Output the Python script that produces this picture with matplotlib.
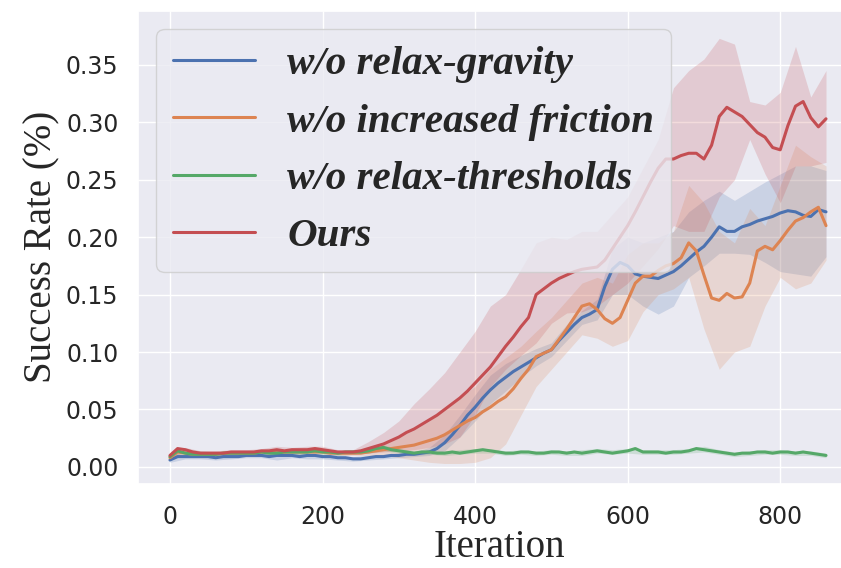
import numpy as np
import matplotlib
matplotlib.use('Agg')
import matplotlib.pyplot as plt
import seaborn as sns

# iterations for the mean curves (every 10) and for the bands (every 20)
iters = np.arange(0, 861, 10)
band_iters = np.arange(0, 861, 20)

gravity = [0.006, 0.009, 0.009, 0.009, 0.009, 0.009, 0.008, 0.009, 0.009, 0.009,
           0.010, 0.010, 0.010, 0.009, 0.010, 0.010, 0.010, 0.009, 0.010, 0.010,
           0.009, 0.009, 0.008, 0.008, 0.007, 0.007, 0.008, 0.009, 0.009, 0.010,
           0.010, 0.011, 0.011, 0.012, 0.013, 0.016, 0.021, 0.028, 0.036, 0.045,
           0.052, 0.060, 0.067, 0.073, 0.078, 0.083, 0.087, 0.091, 0.095, 0.099,
           0.102, 0.110, 0.117, 0.124, 0.130, 0.133, 0.137, 0.157, 0.172, 0.178,
           0.175, 0.168, 0.166, 0.165, 0.164, 0.167, 0.170, 0.175, 0.181, 0.187,
           0.192, 0.200, 0.209, 0.205, 0.205, 0.209, 0.211, 0.214, 0.216, 0.218,
           0.221, 0.223, 0.222, 0.219, 0.218, 0.224, 0.222]
friction = [0.008, 0.013, 0.012, 0.011, 0.011, 0.011, 0.011, 0.012, 0.012, 0.012,
            0.012, 0.012, 0.013, 0.013, 0.013, 0.013, 0.013, 0.013, 0.013, 0.013,
            0.013, 0.012, 0.012, 0.012, 0.012, 0.012, 0.013, 0.014, 0.015, 0.016,
            0.017, 0.018, 0.019, 0.021, 0.023, 0.025, 0.028, 0.032, 0.036, 0.040,
            0.043, 0.048, 0.052, 0.057, 0.061, 0.068, 0.077, 0.085, 0.096, 0.099,
            0.102, 0.111, 0.120, 0.130, 0.140, 0.142, 0.137, 0.129, 0.125, 0.130,
            0.145, 0.160, 0.166, 0.166, 0.171, 0.175, 0.177, 0.182, 0.195, 0.188,
            0.167, 0.147, 0.145, 0.151, 0.147, 0.148, 0.160, 0.188, 0.192, 0.189,
            0.197, 0.206, 0.214, 0.217, 0.222, 0.226, 0.210]
thresholds = [0.009, 0.014, 0.012, 0.011, 0.011, 0.011, 0.011, 0.012, 0.012, 0.012,
              0.012, 0.012, 0.013, 0.012, 0.012, 0.013, 0.013, 0.013, 0.013, 0.014,
              0.013, 0.013, 0.012, 0.013, 0.013, 0.013, 0.014, 0.016, 0.017, 0.015,
              0.014, 0.013, 0.012, 0.013, 0.013, 0.012, 0.012, 0.013, 0.012, 0.013,
              0.014, 0.015, 0.014, 0.013, 0.012, 0.012, 0.013, 0.013, 0.012, 0.012,
              0.013, 0.013, 0.012, 0.013, 0.012, 0.013, 0.014, 0.013, 0.012, 0.013,
              0.014, 0.016, 0.013, 0.013, 0.013, 0.012, 0.013, 0.013, 0.014, 0.016,
              0.015, 0.014, 0.013, 0.012, 0.011, 0.012, 0.012, 0.013, 0.013, 0.012,
              0.013, 0.013, 0.012, 0.013, 0.012, 0.011, 0.010]
ours = [0.010, 0.016, 0.015, 0.013, 0.012, 0.012, 0.012, 0.012, 0.013, 0.013,
        0.013, 0.013, 0.014, 0.014, 0.015, 0.014, 0.015, 0.015, 0.015, 0.016,
        0.015, 0.014, 0.013, 0.013, 0.013, 0.014, 0.016, 0.018, 0.020, 0.023,
        0.026, 0.030, 0.033, 0.037, 0.041, 0.045, 0.050, 0.055, 0.060, 0.066,
        0.073, 0.080, 0.087, 0.096, 0.105, 0.113, 0.122, 0.130, 0.150, 0.155,
        0.160, 0.164, 0.167, 0.170, 0.172, 0.173, 0.174, 0.180, 0.190, 0.200,
        0.210, 0.222, 0.235, 0.248, 0.260, 0.268, 0.268, 0.271, 0.273, 0.273,
        0.268, 0.280, 0.305, 0.313, 0.309, 0.305, 0.298, 0.291, 0.287, 0.278,
        0.276, 0.297, 0.314, 0.318, 0.304, 0.296, 0.303]

# confidence bands (lower, upper) every 20 iterations
gravity_lo = [0.004, 0.007, 0.007, 0.006, 0.007, 0.008, 0.008, 0.006, 0.008, 0.007,
              0.007, 0.006, 0.005, 0.006, 0.007, 0.008, 0.009, 0.010, 0.014, 0.026,
              0.040, 0.055, 0.066, 0.078, 0.088, 0.096, 0.110, 0.124, 0.128, 0.150,
              0.150, 0.140, 0.133, 0.140, 0.165, 0.175, 0.186, 0.186, 0.185, 0.178,
              0.170, 0.168, 0.166, 0.183]
gravity_hi = [0.008, 0.011, 0.011, 0.010, 0.011, 0.012, 0.012, 0.013, 0.012, 0.012,
              0.011, 0.010, 0.009, 0.010, 0.011, 0.012, 0.013, 0.017, 0.028, 0.045,
              0.063, 0.080, 0.090, 0.097, 0.103, 0.108, 0.124, 0.136, 0.146, 0.190,
              0.200, 0.195, 0.200, 0.205, 0.222, 0.232, 0.240, 0.232, 0.240, 0.248,
              0.255, 0.262, 0.262, 0.258]
friction_lo = [0.006, 0.010, 0.009, 0.009, 0.010, 0.010, 0.011, 0.010, 0.011, 0.011,
               0.011, 0.010, 0.010, 0.010, 0.010, 0.008, 0.006, 0.004, 0.003, 0.003,
               0.004, 0.008, 0.020, 0.045, 0.070, 0.085, 0.100, 0.115, 0.112, 0.105,
               0.110, 0.135, 0.150, 0.155, 0.165, 0.120, 0.085, 0.100, 0.105, 0.140,
               0.165, 0.155, 0.160, 0.180]
friction_hi = [0.010, 0.014, 0.013, 0.013, 0.014, 0.014, 0.015, 0.016, 0.015, 0.015,
               0.016, 0.014, 0.014, 0.016, 0.020, 0.026, 0.032, 0.040, 0.050, 0.060,
               0.070, 0.085, 0.095, 0.105, 0.118, 0.130, 0.145, 0.160, 0.165, 0.160,
               0.185, 0.195, 0.195, 0.205, 0.245, 0.230, 0.205, 0.195, 0.225, 0.210,
               0.245, 0.280, 0.270, 0.262]
thresholds_lo = [0.007, 0.012, 0.010, 0.010, 0.010, 0.010, 0.011, 0.010, 0.011, 0.011,
                 0.011, 0.010, 0.011, 0.012, 0.014, 0.012, 0.010, 0.011, 0.010, 0.011,
                 0.012, 0.012, 0.010, 0.011, 0.010, 0.011, 0.010, 0.010, 0.012, 0.011,
                 0.012, 0.011, 0.011, 0.011, 0.012, 0.013, 0.011, 0.009, 0.010, 0.011,
                 0.011, 0.010, 0.010, 0.008]
thresholds_hi = [0.011, 0.016, 0.014, 0.013, 0.014, 0.014, 0.015, 0.015, 0.015, 0.016,
                 0.015, 0.014, 0.015, 0.016, 0.019, 0.016, 0.014, 0.015, 0.014, 0.015,
                 0.016, 0.016, 0.014, 0.015, 0.014, 0.015, 0.014, 0.015, 0.016, 0.015,
                 0.016, 0.015, 0.015, 0.015, 0.016, 0.018, 0.015, 0.013, 0.014, 0.015,
                 0.015, 0.014, 0.014, 0.012]
ours_lo = [0.008, 0.013, 0.010, 0.010, 0.011, 0.011, 0.012, 0.012, 0.013, 0.013,
           0.013, 0.011, 0.011, 0.012, 0.013, 0.014, 0.015, 0.017, 0.020, 0.026,
           0.045, 0.070, 0.085, 0.097, 0.108, 0.125, 0.134, 0.135, 0.140, 0.150,
           0.160, 0.175, 0.190, 0.210, 0.205, 0.205, 0.235, 0.250, 0.285, 0.255,
           0.230, 0.262, 0.262, 0.265]
ours_hi = [0.012, 0.017, 0.014, 0.014, 0.015, 0.015, 0.016, 0.018, 0.017, 0.018,
           0.018, 0.015, 0.015, 0.022, 0.030, 0.040, 0.055, 0.068, 0.082, 0.100,
           0.118, 0.140, 0.150, 0.172, 0.195, 0.200, 0.198, 0.205, 0.205, 0.220,
           0.235, 0.260, 0.285, 0.330, 0.345, 0.355, 0.373, 0.368, 0.318, 0.315,
           0.326, 0.366, 0.322, 0.345]

labels = ['w/o relax-gravity', 'w/o increased friction', 'w/o relax-thresholds', 'Ours']

sns.set_theme(style='darkgrid')
colors = sns.color_palette('deep')
palette = [colors[0], colors[1], colors[2], colors[3]]

series = [gravity, friction, thresholds, ours]
bands = [(gravity_lo, gravity_hi), (friction_lo, friction_hi),
         (thresholds_lo, thresholds_hi), (ours_lo, ours_hi)]

fig = plt.figure(figsize=(8.41, 5.68), dpi=100)
ax = fig.add_axes([0.164, 0.148, 0.859, 0.833])

for vals, (lo, hi), col, lab in zip(series, bands, palette, labels):
    ax.fill_between(band_iters, lo, hi, color=col, alpha=0.2, linewidth=0)
    ax.plot(iters, vals, color=col, linewidth=2.2, label=lab)

ax.set_xlim(-42, 905)
ax.set_ylim(-0.0148, 0.397)
ax.set_xticks([0, 200, 400, 600, 800])
ax.set_yticks([0.0, 0.05, 0.10, 0.15, 0.20, 0.25, 0.30, 0.35])
ax.set_yticklabels(['0.00', '0.05', '0.10', '0.15', '0.20', '0.25', '0.30', '0.35'])
ax.tick_params(axis='both', labelsize=17, length=0)
ax.tick_params(axis='x', pad=15)
ax.tick_params(axis='y', pad=14)

serif = 'Liberation Serif'
ax.set_xlabel('Iteration', family=serif, fontsize=28, labelpad=0)
ax.set_ylabel('Success Rate (%)', family=serif, fontsize=28, labelpad=4)

leg = ax.legend(loc='upper left', prop={'family': serif, 'weight': 'bold',
                                       'style': 'italic', 'size': 29.5},
                labelspacing=0.48, framealpha=0.8, borderaxespad=0.45)
leg.get_frame().set_edgecolor('0.8')

fig.savefig('out.png', dpi=100)
